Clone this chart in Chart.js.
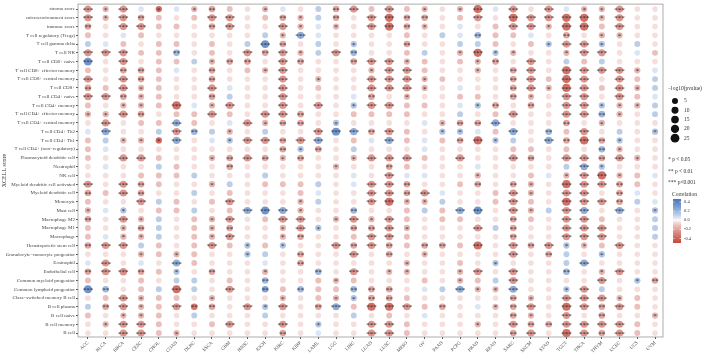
<!DOCTYPE html>
<html>
<head>
<meta charset="utf-8">
<script src="https://cdn.jsdelivr.net/npm/chart.js@4.4.1/dist/chart.umd.min.js"></script>
<style>
  html, body { margin: 0; padding: 0; background: #fff; }
</style>
</head>
<body>
<canvas id="bubble-chart" width="709" height="353"></canvas>
<script>
const cancers = ['ACC','BLCA','BRCA','CESC','CHOL','COAD','DLBC','ESCA','GBM','HNSC','KICH','KIRC','KIRP',
  'LAML','LGG','LIHC','LUAD','LUSC','MESO','OV','PAAD','PCPG','PRAD','READ','SARC','SKCM','STAD',
  'TGCT','THCA','THYM','UCEC','UCS','UVM'];

const cellTypes = [
  'stroma score',
  'microenvironment score',
  'immune score',
  'T cell regulatory (Tregs)',
  'T cell gamma delta',
  'T cell NK',
  'T cell CD8+ naive',
  'T cell CD8+ effector memory',
  'T cell CD8+ central memory',
  'T cell CD8+',
  'T cell CD4+ naive',
  'T cell CD4+ memory',
  'T cell CD4+ effector memory',
  'T cell CD4+ central memory',
  'T cell CD4+ Th2',
  'T cell CD4+ Th1',
  'T cell CD4+ (non\u2212regulatory)',
  'Plasmacytoid dendritic cell',
  'Neutrophil',
  'NK cell',
  'Myeloid dendritic cell activated',
  'Myeloid dendritic cell',
  'Monocyte',
  'Mast cell',
  'Macrophage M2',
  'Macrophage M1',
  'Macrophage',
  'Hematopoietic stem cell',
  'Granulocyte\u2212monocyte progenitor',
  'Eosinophil',
  'Endothelial cell',
  'Common myeloid progenitor',
  'Common lymphoid progenitor',
  'Class\u2212switched memory B cell',
  'B cell plasma',
  'B cell naive',
  'B cell memory',
  'B cell'
];

// correlation, one row per cell type, one column per cancer
const corr = [
  [-0.24,-0.15,-0.24,0.05,-0.38,0.05,-0.15,-0.19,-0.12,-0.05,-0.15,0.05,-0.05,0.12,-0.19,-0.24,-0.12,-0.24,-0.12,-0.15,-0.05,-0.15,-0.36,0.05,-0.24,-0.05,-0.24,0.05,-0.15,-0.15,-0.24,-0.05,-0.05],
  [-0.24,-0.15,-0.24,-0.19,-0.12,-0.05,-0.12,-0.24,-0.24,-0.05,-0.12,-0.19,-0.15,0.12,-0.19,-0.05,-0.24,-0.36,-0.19,-0.19,-0.05,-0.12,-0.24,-0.05,-0.36,-0.24,-0.24,-0.36,-0.36,-0.15,-0.24,-0.05,-0.05],
  [-0.19,-0.05,-0.24,-0.24,-0.12,-0.12,-0.05,-0.19,-0.24,-0.05,-0.05,-0.24,-0.15,0.05,-0.15,-0.05,-0.24,-0.36,-0.19,-0.15,-0.05,0.05,-0.05,-0.12,-0.24,-0.24,-0.15,-0.36,-0.36,-0.12,-0.24,-0.05,-0.05],
  [-0.12,-0.05,0.05,-0.12,-0.05,-0.05,-0.05,-0.05,-0.05,-0.05,0.12,-0.15,0.24,0.05,-0.05,-0.05,-0.05,-0.05,-0.12,-0.05,0.12,0.05,0.19,-0.12,-0.12,0.05,-0.05,-0.19,-0.05,-0.15,-0.15,-0.05,-0.05],
  [0.12,0.05,-0.12,-0.05,-0.12,-0.12,-0.05,-0.12,-0.05,0.12,0.33,-0.19,-0.05,0.12,-0.05,0.15,-0.05,-0.05,-0.19,-0.05,-0.05,0.12,0.12,-0.12,-0.05,-0.12,0.15,-0.24,-0.24,0.15,-0.05,0.12,-0.05],
  [-0.24,-0.24,-0.24,-0.12,-0.12,0.19,-0.05,-0.12,-0.05,-0.24,-0.19,-0.24,-0.15,0.12,-0.24,0.19,-0.05,-0.05,-0.12,0.12,-0.05,-0.15,-0.36,0.15,-0.15,-0.05,-0.05,-0.15,-0.24,-0.24,-0.05,0.05,-0.12],
  [0.33,-0.05,-0.24,-0.05,-0.12,-0.12,0.12,-0.15,-0.19,-0.19,-0.05,-0.24,-0.19,-0.05,-0.05,-0.19,-0.24,-0.24,-0.15,-0.12,-0.05,-0.12,-0.15,-0.19,-0.05,-0.24,-0.05,0.12,-0.12,0.12,-0.05,-0.05,-0.05],
  [-0.12,-0.05,-0.19,-0.19,-0.12,0.05,-0.05,-0.19,-0.05,-0.12,-0.15,-0.24,-0.05,-0.05,-0.05,-0.05,-0.15,-0.24,-0.24,-0.12,-0.05,-0.05,-0.15,-0.05,-0.19,-0.24,-0.05,-0.36,-0.24,-0.24,-0.24,-0.15,0.05],
  [-0.24,-0.05,-0.24,-0.19,-0.12,-0.05,-0.05,-0.19,-0.05,-0.05,-0.05,-0.24,-0.05,-0.15,-0.05,-0.05,-0.24,-0.24,-0.24,-0.15,-0.12,-0.05,-0.05,-0.05,-0.19,-0.24,-0.12,-0.36,-0.24,-0.05,-0.24,-0.12,0.12],
  [-0.19,-0.12,-0.24,-0.15,-0.12,-0.05,-0.05,-0.24,0.05,-0.05,-0.05,-0.24,-0.05,-0.12,-0.05,-0.05,-0.24,-0.24,-0.24,-0.15,-0.05,0.05,-0.05,-0.05,-0.19,-0.24,-0.15,-0.36,-0.24,-0.12,-0.24,-0.15,0.12],
  [-0.24,-0.24,-0.19,-0.15,-0.12,-0.05,-0.05,-0.19,0.12,-0.05,-0.05,-0.24,-0.05,-0.05,-0.05,0.05,-0.19,-0.05,-0.15,-0.05,-0.05,-0.12,-0.12,-0.05,-0.19,-0.15,-0.05,-0.24,-0.24,-0.05,-0.24,-0.12,0.05],
  [-0.12,-0.05,-0.15,-0.15,-0.12,-0.36,0.05,-0.15,-0.24,-0.05,-0.05,-0.24,-0.05,-0.24,-0.05,0.15,-0.24,-0.24,-0.12,-0.12,-0.05,0.05,0.15,-0.19,-0.05,-0.19,-0.05,-0.24,-0.24,0.15,-0.15,-0.15,0.12],
  [-0.15,-0.15,-0.24,-0.19,-0.05,-0.12,-0.12,-0.24,-0.12,-0.05,-0.24,-0.24,-0.19,-0.05,-0.05,-0.12,-0.12,-0.12,-0.12,-0.05,-0.05,0.12,-0.05,-0.12,-0.24,-0.05,-0.05,-0.24,-0.24,0.19,-0.15,-0.05,0.12],
  [-0.05,-0.24,-0.05,-0.12,-0.12,0.24,-0.12,-0.05,0.05,-0.24,-0.15,-0.19,-0.19,-0.05,0.15,-0.05,-0.05,-0.05,-0.05,0.05,-0.15,-0.19,-0.19,0.24,-0.05,-0.05,-0.05,-0.19,-0.05,-0.15,-0.05,-0.05,-0.05],
  [0.05,0.24,-0.05,-0.05,0.12,-0.24,0.19,0.12,-0.15,-0.05,0.12,-0.05,-0.05,-0.24,0.33,0.24,-0.19,-0.24,-0.12,-0.05,0.15,0.15,0.05,-0.12,0.24,-0.05,0.19,-0.12,-0.24,-0.05,0.12,-0.05,0.15],
  [-0.12,0.12,-0.15,-0.15,-0.38,0.24,-0.05,0.05,0.15,-0.24,-0.24,-0.19,-0.24,0.24,-0.05,-0.12,0.05,0.24,-0.12,0.05,-0.12,-0.19,-0.36,0.15,0.12,-0.05,0.24,-0.19,-0.36,-0.19,0.15,-0.05,-0.05],
  [-0.12,0.05,-0.05,-0.05,-0.05,-0.05,-0.05,-0.05,-0.05,-0.05,-0.05,-0.19,0.15,-0.19,-0.05,0.12,-0.05,-0.05,-0.05,0.05,-0.05,-0.05,-0.05,-0.05,-0.12,-0.12,-0.05,-0.12,-0.05,0.19,-0.15,-0.05,-0.05],
  [-0.12,-0.05,-0.24,-0.24,-0.12,-0.05,-0.05,-0.15,-0.19,-0.24,-0.19,-0.15,-0.19,-0.05,-0.05,-0.15,-0.24,-0.24,-0.24,-0.12,-0.05,-0.24,-0.05,-0.05,-0.24,-0.19,-0.05,-0.24,-0.24,-0.19,-0.24,-0.15,-0.05],
  [-0.05,0.05,-0.05,-0.05,0.12,-0.12,-0.05,-0.05,-0.19,-0.05,-0.05,-0.05,-0.05,-0.05,-0.15,-0.05,-0.05,-0.19,-0.12,-0.05,-0.05,-0.05,0.05,-0.05,-0.05,-0.05,-0.05,0.12,0.24,0.15,-0.05,-0.05,-0.05],
  [-0.05,-0.05,-0.05,-0.12,-0.12,-0.12,0.12,-0.05,-0.05,-0.05,0.12,-0.05,-0.05,-0.05,-0.05,0.05,-0.05,-0.24,0.05,0.05,-0.05,-0.05,-0.15,-0.05,-0.05,-0.12,0.05,-0.15,-0.24,-0.36,-0.15,-0.12,0.05],
  [-0.24,-0.05,-0.24,-0.19,-0.12,-0.05,-0.05,-0.15,0.12,-0.05,-0.12,-0.12,-0.12,0.12,-0.05,0.05,-0.24,-0.24,-0.19,-0.05,-0.05,-0.12,-0.19,-0.05,-0.19,-0.15,-0.05,-0.36,-0.24,-0.24,-0.19,-0.12,-0.05],
  [-0.19,-0.12,-0.24,-0.19,-0.05,-0.05,0.12,-0.05,-0.12,-0.05,-0.05,-0.05,-0.12,0.05,-0.05,-0.05,-0.24,-0.24,-0.19,-0.24,0.05,-0.05,-0.05,-0.12,-0.24,-0.15,-0.05,-0.24,-0.24,-0.05,-0.19,0.05,-0.05],
  [-0.12,-0.05,-0.05,-0.24,0.12,-0.12,-0.05,-0.12,-0.24,-0.05,-0.05,-0.05,-0.15,0.12,-0.05,-0.05,-0.24,-0.36,-0.15,-0.15,0.12,-0.05,-0.05,-0.12,-0.24,-0.12,-0.05,-0.36,-0.24,-0.24,-0.19,0.12,0.05],
  [-0.15,0.05,0.15,-0.05,-0.12,-0.12,0.12,-0.05,-0.12,0.24,0.33,0.24,-0.15,-0.05,-0.05,0.19,-0.05,-0.05,-0.12,0.12,-0.12,0.24,0.33,-0.05,-0.24,-0.15,0.12,-0.24,0.24,-0.05,0.24,-0.05,0.15],
  [-0.19,-0.05,-0.24,-0.15,0.12,-0.05,-0.12,-0.15,-0.24,-0.05,-0.12,-0.24,-0.24,-0.05,-0.15,-0.24,-0.15,-0.24,-0.12,-0.05,-0.12,-0.12,-0.05,-0.05,-0.19,-0.12,-0.05,-0.24,-0.24,-0.12,-0.05,-0.05,0.12],
  [-0.12,-0.05,-0.15,-0.19,0.12,-0.05,-0.12,-0.15,-0.19,-0.05,-0.05,-0.15,-0.24,0.15,-0.05,-0.19,-0.19,-0.24,-0.15,-0.05,-0.05,-0.05,-0.24,0.12,-0.19,-0.05,-0.05,-0.24,-0.24,-0.24,-0.05,-0.05,0.12],
  [-0.12,0.05,-0.15,-0.15,0.12,-0.05,-0.12,-0.15,-0.24,-0.05,-0.05,-0.15,-0.19,-0.05,-0.05,-0.12,-0.24,-0.24,-0.12,-0.05,-0.05,-0.05,-0.05,-0.05,-0.19,-0.05,-0.05,-0.24,-0.24,-0.24,-0.05,-0.05,0.12],
  [-0.19,-0.24,-0.24,0.12,-0.12,-0.05,-0.12,-0.24,-0.12,0.15,-0.12,0.15,-0.05,-0.05,-0.24,-0.19,-0.24,-0.19,-0.12,-0.19,-0.19,-0.12,-0.36,-0.05,-0.24,-0.19,-0.24,0.15,-0.15,-0.12,-0.24,-0.05,-0.05],
  [-0.05,-0.05,-0.05,-0.15,-0.12,-0.15,-0.12,-0.05,-0.05,0.15,0.12,-0.05,-0.19,-0.05,-0.05,-0.24,-0.05,-0.19,-0.05,-0.15,-0.05,-0.05,-0.05,-0.05,-0.24,-0.05,-0.19,0.12,-0.05,0.15,-0.05,-0.05,-0.05],
  [0.05,-0.24,-0.05,0.05,-0.05,0.24,-0.12,-0.05,-0.05,-0.05,0.05,-0.05,-0.19,-0.05,-0.05,-0.05,-0.05,-0.05,-0.15,-0.05,-0.05,-0.12,-0.05,0.15,-0.05,-0.05,-0.05,0.12,0.24,-0.05,-0.05,-0.05,-0.05],
  [-0.19,-0.24,-0.26,-0.19,-0.12,0.15,-0.05,-0.19,-0.05,-0.05,-0.15,-0.05,-0.05,0.19,-0.05,-0.24,-0.05,-0.15,-0.15,-0.05,-0.05,-0.15,-0.24,-0.05,-0.24,-0.05,-0.05,0.19,-0.05,-0.15,-0.24,-0.05,-0.05],
  [-0.12,-0.05,-0.05,-0.12,-0.05,0.12,0.12,-0.05,-0.12,-0.05,0.19,-0.05,-0.05,-0.12,-0.15,-0.12,-0.05,-0.05,-0.05,-0.12,-0.05,-0.15,-0.12,0.12,-0.24,-0.05,-0.05,-0.05,-0.05,-0.24,-0.05,0.15,-0.19],
  [0.33,0.19,-0.05,-0.12,0.12,-0.36,0.12,-0.05,-0.24,-0.05,0.28,-0.12,0.19,-0.12,-0.12,0.19,-0.19,-0.19,-0.05,0.05,0.12,0.24,-0.15,-0.15,0.24,-0.05,-0.05,0.15,-0.24,0.12,-0.05,-0.05,-0.05],
  [-0.05,-0.12,-0.24,-0.15,-0.12,-0.12,-0.05,-0.15,-0.05,-0.05,-0.05,-0.15,-0.05,-0.12,-0.15,0.15,-0.19,-0.19,-0.12,-0.05,-0.05,-0.05,-0.05,-0.05,-0.19,-0.15,-0.05,-0.24,-0.24,-0.24,-0.15,-0.12,-0.05],
  [0.12,-0.19,-0.24,-0.15,-0.12,-0.24,-0.34,-0.19,-0.05,-0.24,0.15,-0.24,-0.05,-0.19,0.24,-0.12,-0.36,-0.36,-0.24,-0.12,-0.19,-0.05,0.05,-0.15,-0.19,-0.24,-0.05,-0.36,-0.24,-0.19,-0.24,-0.12,-0.05],
  [-0.12,-0.05,-0.15,-0.15,-0.12,-0.05,0.12,-0.05,-0.05,-0.05,0.12,-0.05,-0.05,-0.05,-0.05,0.12,-0.05,-0.12,-0.05,0.05,-0.05,-0.05,-0.05,-0.05,-0.19,-0.15,-0.05,-0.24,-0.05,-0.19,-0.05,-0.05,-0.15],
  [-0.05,-0.15,-0.24,-0.24,-0.12,-0.05,-0.05,-0.12,-0.24,-0.05,-0.05,-0.24,-0.05,0.15,-0.05,-0.05,-0.24,-0.24,-0.12,-0.05,-0.05,-0.05,-0.15,-0.05,-0.24,-0.19,-0.19,-0.24,-0.24,-0.24,-0.24,-0.12,-0.05],
  [-0.05,-0.05,-0.24,-0.24,-0.12,-0.15,-0.05,-0.05,-0.05,-0.05,-0.05,-0.19,-0.05,0.05,-0.05,-0.05,-0.24,-0.24,-0.12,-0.05,-0.05,-0.05,-0.05,-0.05,-0.19,-0.24,-0.05,-0.36,-0.24,-0.19,-0.24,-0.12,-0.05]
];

// -log10(pvalue), same layout as corr
const logP = [
  [4.5,1.6,4.5,0.4,1.7,0.4,1.6,2.4,0.9,0.4,1.6,0.4,0.4,0.9,2.4,4.5,0.9,4.5,0.9,1.6,0.4,1.6,10,0.4,4.5,0.4,4.5,0.4,1.6,1.6,4.5,0.4,0.4],
  [4.5,1.6,4.5,2.4,0.9,0.4,0.9,4.5,4.5,0.4,0.9,2.4,1.6,0.9,2.4,0.4,4.5,10,2.4,2.4,0.4,0.9,4.5,0.4,10,4.5,4.5,10,10,1.6,4.5,0.4,0.4],
  [2.4,0.4,4.5,4.5,0.9,0.9,0.4,2.4,4.5,0.4,0.4,4.5,1.6,0.4,1.6,0.4,4.5,10,2.4,1.6,0.4,0.4,0.4,0.9,4.5,4.5,1.6,10,10,0.9,4.5,0.4,0.4],
  [0.9,0.4,0.4,0.9,0.4,0.4,0.4,0.4,0.4,0.4,0.9,1.6,4.5,0.4,0.4,0.4,0.4,0.4,0.9,0.4,0.9,0.4,2.4,0.9,0.9,0.4,0.4,2.4,0.4,1.6,1.6,0.4,0.4],
  [0.9,0.4,0.9,0.4,0.9,0.9,0.4,0.9,0.4,0.9,8,2.4,0.4,0.9,0.4,1.6,0.4,0.4,2.4,0.4,0.4,0.9,0.9,0.9,0.4,0.9,1.6,4.5,4.5,1.6,0.4,0.9,0.4],
  [4.5,4.5,4.5,0.9,0.9,2.4,0.4,0.9,0.4,4.5,2.4,4.5,1.6,0.9,4.5,2.4,0.4,0.4,0.9,0.9,0.4,1.6,10,1.6,1.6,0.4,0.4,1.6,4.5,4.5,0.4,0.4,0.9],
  [8,0.4,4.5,0.4,0.9,0.9,0.9,1.6,2.4,2.4,0.4,4.5,2.4,0.4,0.4,2.4,4.5,4.5,1.6,0.9,0.4,0.9,1.6,2.4,0.4,4.5,0.4,0.9,0.9,0.9,0.4,0.4,0.4],
  [0.9,0.4,2.4,2.4,0.9,0.4,0.4,2.4,0.4,0.9,1.6,4.5,0.4,0.4,0.4,0.4,1.6,4.5,4.5,0.9,0.4,0.4,1.6,0.4,2.4,4.5,0.4,10,4.5,4.5,4.5,1.6,0.4],
  [4.5,0.4,4.5,2.4,0.9,0.4,0.4,2.4,0.4,0.4,0.4,4.5,0.4,1.6,0.4,0.4,4.5,4.5,4.5,1.6,0.9,0.4,0.4,0.4,2.4,4.5,0.9,10,4.5,0.4,4.5,0.9,0.9],
  [2.4,0.9,4.5,1.6,0.9,0.4,0.4,4.5,0.4,0.4,0.4,4.5,0.4,0.9,0.4,0.4,4.5,4.5,4.5,1.6,0.4,0.4,0.4,0.4,2.4,4.5,1.6,10,4.5,0.9,4.5,1.6,0.9],
  [4.5,4.5,2.4,1.6,0.9,0.4,0.4,2.4,0.9,0.4,0.4,4.5,0.4,0.4,0.4,0.4,2.4,0.4,1.6,0.4,0.4,0.9,0.9,0.4,2.4,1.6,0.4,4.5,4.5,0.4,4.5,0.9,0.4],
  [0.9,0.4,1.6,1.6,0.9,10,0.4,1.6,4.5,0.4,0.4,4.5,0.4,4.5,0.4,1.6,4.5,4.5,0.9,0.9,0.4,0.4,1.6,2.4,0.4,2.4,0.4,4.5,4.5,1.6,1.6,1.6,0.9],
  [1.6,1.6,4.5,2.4,0.4,0.9,0.9,4.5,0.9,0.4,4.5,4.5,2.4,0.4,0.4,0.9,0.9,0.9,0.9,0.4,0.4,0.9,0.4,0.9,4.5,0.4,0.4,4.5,4.5,2.4,1.6,0.4,0.9],
  [0.4,4.5,0.4,0.9,0.9,4.5,0.9,0.4,0.4,4.5,1.6,2.4,2.4,0.4,1.6,0.4,0.4,0.4,0.4,0.4,1.6,2.4,2.4,4.5,0.4,0.4,0.4,2.4,0.4,1.6,0.4,0.4,0.4],
  [0.4,4.5,0.4,0.4,0.9,4.5,2.4,0.9,1.6,0.4,0.9,0.4,0.4,4.5,8,4.5,2.4,4.5,0.9,0.4,1.6,1.6,0.4,0.9,4.5,0.4,2.4,0.9,4.5,0.4,0.9,0.4,1.6],
  [0.9,0.9,1.6,1.6,1.7,4.5,0.4,0.4,1.6,4.5,4.5,2.4,4.5,4.5,0.4,0.9,0.4,4.5,0.9,0.4,0.9,2.4,10,1.6,0.9,0.4,4.5,2.4,10,2.4,1.6,0.4,0.4],
  [0.9,0.4,0.4,0.4,0.4,0.4,0.4,0.4,0.4,0.4,0.4,2.4,1.6,2.4,0.4,0.9,0.4,0.4,0.4,0.4,0.4,0.4,0.4,0.4,0.9,0.9,0.4,0.9,0.4,2.4,1.6,0.4,0.4],
  [0.9,0.4,4.5,4.5,0.9,0.4,0.4,1.6,2.4,4.5,2.4,1.6,2.4,0.4,0.4,1.6,4.5,4.5,4.5,0.9,0.4,4.5,0.4,0.4,4.5,2.4,0.4,4.5,4.5,2.4,4.5,1.6,0.4],
  [0.4,0.4,0.4,0.4,0.9,0.9,0.4,0.4,2.4,0.4,0.4,0.4,0.4,0.4,1.6,0.4,0.4,2.4,0.9,0.4,0.4,0.4,0.4,0.4,0.4,0.4,0.4,0.9,4.5,1.6,0.4,0.4,0.4],
  [0.4,0.4,0.4,0.9,0.9,0.9,0.9,0.4,0.4,0.4,0.9,0.4,0.4,0.4,0.4,0.4,0.4,4.5,0.4,0.4,0.4,0.4,1.6,0.4,0.4,0.9,0.4,1.6,4.5,10,1.6,0.9,0.4],
  [4.5,0.4,4.5,2.4,0.9,0.4,0.4,1.6,0.9,0.4,0.9,0.9,0.9,0.9,0.4,0.4,4.5,4.5,2.4,0.4,0.4,0.9,2.4,0.4,2.4,1.6,0.4,10,4.5,4.5,2.4,0.9,0.4],
  [2.4,0.9,4.5,2.4,0.4,0.4,0.9,0.4,0.9,0.4,0.4,0.4,0.9,0.4,0.4,0.4,4.5,4.5,2.4,4.5,0.4,0.4,0.4,0.9,4.5,1.6,0.4,4.5,4.5,0.4,2.4,0.4,0.4],
  [0.9,0.4,0.4,4.5,0.9,0.9,0.4,0.9,4.5,0.4,0.4,0.4,1.6,0.9,0.4,0.4,4.5,10,1.6,1.6,0.9,0.4,0.4,0.9,4.5,0.9,0.4,10,4.5,4.5,2.4,0.9,0.4],
  [1.6,0.4,1.6,0.4,0.9,0.9,0.9,0.4,0.9,4.5,8,4.5,1.6,0.4,0.4,2.4,0.4,0.4,0.9,0.9,0.9,4.5,8,0.4,4.5,1.6,0.9,4.5,4.5,0.4,4.5,0.4,1.6],
  [2.4,0.4,4.5,1.6,0.9,0.4,0.9,1.6,4.5,0.4,0.9,4.5,4.5,0.4,1.6,4.5,1.6,4.5,0.9,0.4,0.9,0.9,0.4,0.4,2.4,0.9,0.4,4.5,4.5,0.9,0.4,0.4,0.9],
  [0.9,0.4,1.6,2.4,0.9,0.4,0.9,1.6,2.4,0.4,0.4,1.6,4.5,1.6,0.4,2.4,2.4,4.5,1.6,0.4,0.4,0.4,4.5,0.9,2.4,0.4,0.4,4.5,4.5,4.5,0.4,0.4,0.9],
  [0.9,0.4,1.6,1.6,0.9,0.4,0.9,1.6,4.5,0.4,0.4,1.6,2.4,0.4,0.4,0.9,4.5,4.5,0.9,0.4,0.4,0.4,0.4,0.4,2.4,0.4,0.4,4.5,4.5,4.5,0.4,0.4,0.9],
  [2.4,4.5,4.5,0.9,0.9,0.4,0.9,4.5,0.9,1.6,0.9,1.6,0.4,0.4,4.5,2.4,4.5,2.4,0.9,2.4,2.4,0.9,10,0.4,4.5,2.4,4.5,1.6,1.6,0.9,4.5,0.4,0.4],
  [0.4,0.4,0.4,1.6,0.9,1.6,0.9,0.4,0.4,1.6,0.9,0.4,2.4,0.4,0.4,4.5,0.4,2.4,0.4,1.6,0.4,0.4,0.4,0.4,4.5,0.4,2.4,0.9,0.4,1.6,0.4,0.4,0.4],
  [0.4,4.5,0.4,0.4,0.4,4.5,0.9,0.4,0.4,0.4,0.4,0.4,2.4,0.4,0.4,0.4,0.4,0.4,1.6,0.4,0.4,0.9,0.4,1.6,0.4,0.4,0.4,0.9,4.5,0.4,0.4,0.4,0.4],
  [2.4,4.5,5.5,2.4,0.9,1.6,0.4,2.4,0.4,0.4,1.6,0.4,0.4,2.4,0.4,4.5,0.4,1.6,1.6,0.4,0.4,1.6,4.5,0.4,4.5,0.4,0.4,2.4,0.4,1.6,4.5,0.4,0.4],
  [0.9,0.4,0.4,0.9,0.4,0.9,0.9,0.4,0.9,0.4,2.4,0.4,0.4,0.9,1.6,0.9,0.4,0.4,0.4,0.9,0.4,1.6,0.9,0.9,4.5,0.4,0.4,0.4,0.4,4.5,0.4,1.6,2.4],
  [8,2.4,0.4,0.9,0.9,10,0.9,0.4,4.5,0.4,2.6,0.9,2.4,0.9,0.9,2.4,2.4,2.4,0.4,0.4,0.9,4.5,1.6,1.6,4.5,0.4,0.4,1.6,4.5,0.9,0.4,0.4,0.4],
  [0.4,0.9,4.5,1.6,0.9,0.9,0.4,1.6,0.4,0.4,0.4,1.6,0.4,0.9,1.6,1.6,2.4,2.4,0.9,0.4,0.4,0.4,0.4,0.4,2.4,1.6,0.4,4.5,4.5,4.5,1.6,0.9,0.4],
  [0.9,2.4,4.5,1.6,0.9,4.5,2.6,2.4,0.4,4.5,1.6,4.5,0.4,2.4,4.5,0.9,10,10,4.5,0.9,2.4,0.4,0.4,1.6,2.4,4.5,0.4,10,4.5,2.4,4.5,0.9,0.4],
  [0.9,0.4,1.6,1.6,0.9,0.4,0.9,0.4,0.4,0.4,0.9,0.4,0.4,0.4,0.4,0.9,0.4,0.9,0.4,0.4,0.4,0.4,0.4,0.4,2.4,1.6,0.4,4.5,0.4,2.4,0.4,0.4,1.6],
  [0.4,1.6,4.5,4.5,0.9,0.4,0.4,0.9,4.5,0.4,0.4,4.5,0.4,1.6,0.4,0.4,4.5,4.5,0.9,0.4,0.4,0.4,1.6,0.4,4.5,2.4,2.4,4.5,4.5,4.5,4.5,0.9,0.4],
  [0.4,0.4,4.5,4.5,0.9,1.6,0.4,0.4,0.4,0.4,0.4,2.4,0.4,0.4,0.4,0.4,4.5,4.5,0.9,0.4,0.4,0.4,0.4,0.4,2.4,4.5,0.4,10,4.5,2.4,4.5,0.9,0.4]
];

const sizeTicks = [5, 10, 15, 20, 25];
const corrTicks = [0.4, 0.2, 0.0, -0.2, -0.4];
const starLabels = ['* p < 0.05', '** p < 0.01', '*** p<0.001'];

const corrLo = -0.5, corrHi = 0.46;
const redEnd = [196, 72, 60];
const blueEnd = [72, 118, 190];
const serif = '"Liberation Serif", "DejaVu Serif", serif';

function corrColor(v) {
  let t, end;
  if (v < 0) { t = Math.min(1, v / corrLo); end = redEnd; }
  else { t = Math.min(1, v / corrHi); end = blueEnd; }
  t = Math.pow(t, 0.75);
  const c = end.map(e => Math.round(255 + (e - 255) * t));
  return 'rgb(' + c.join(',') + ')';
}

function sizeOf(lp) {
  return 2.5 + 0.5 * Math.sqrt(lp);
}

function starsOf(lp) {
  if (lp > 3) return '***';
  if (lp > 2) return '**';
  if (lp > 1.3) return '*';
  return '';
}

const points = [];
cellTypes.forEach((cell, r) => {
  cancers.forEach((cancer, c) => {
    points.push({x: c, y: r, r: sizeOf(logP[r][c]), corr: corr[r][c], lp: logP[r][c]});
  });
});

const extras = {
  id: 'extras',
  afterDatasetsDraw(chart) {
    const ctx = chart.ctx;
    const meta = chart.getDatasetMeta(0);
    ctx.save();
    ctx.fillStyle = '#2a2a2a';
    ctx.font = '7px ' + serif;
    ctx.textAlign = 'center';
    ctx.textBaseline = 'middle';
    meta.data.forEach((el, i) => {
      const s = starsOf(points[i].lp);
      if (s) ctx.fillText(s, el.x, el.y + 0.8);
    });
    ctx.restore();
  },
  afterDraw(chart) {
    const ctx = chart.ctx;
    const a = chart.chartArea;
    ctx.save();
    ctx.strokeStyle = '#8a8a8a';
    ctx.lineWidth = 0.7;
    ctx.strokeRect(a.left, a.top, a.right - a.left, a.bottom - a.top);

    // size legend
    ctx.fillStyle = '#333';
    ctx.font = '5.5px ' + serif;
    ctx.textAlign = 'left';
    ctx.textBaseline = 'middle';
    ctx.fillText('\u2212log10(pvalue)', 668, 89);
    sizeTicks.forEach((s, i) => {
      const y = 101 + i * 9.3;
      ctx.fillStyle = '#111';
      ctx.beginPath();
      ctx.arc(675, y, sizeOf(s) - 0.6, 0, Math.PI * 2);
      ctx.fill();
      ctx.fillStyle = '#333';
      ctx.fillText(String(s), 684, y);
    });

    // star legend
    starLabels.forEach((t, i) => {
      ctx.fillText(t, 668, 160 + i * 11.5);
    });

    // colour bar
    ctx.fillText('Correlation', 672, 195);
    const top = 199, bot = 243, bx = 673, bw = 8;
    for (let y = top; y < bot; y++) {
      const v = corrHi - (y - top + 0.5) / (bot - top) * (corrHi - corrLo);
      ctx.fillStyle = corrColor(v);
      ctx.fillRect(bx, y, bw, 1);
    }
    ctx.fillStyle = '#333';
    ctx.font = '4.5px ' + serif;
    corrTicks.forEach(v => {
      const y = top + (corrHi - v) / (corrHi - corrLo) * (bot - top);
      ctx.fillText(v.toFixed(1), bx + bw + 3, y);
      ctx.fillStyle = '#fff';
      ctx.fillRect(bx, y, 1.5, 0.6);
      ctx.fillRect(bx + bw - 1.5, y, 1.5, 0.6);
      ctx.fillStyle = '#333';
    });
    ctx.restore();
  }
};

const config = {
  type: 'bubble',
  data: {
    datasets: [{
      data: points,
      backgroundColor: ctx => corrColor(ctx.raw.corr),
      borderWidth: 0,
      hoverBorderWidth: 0
    }]
  },
  options: {
    responsive: false,
    animation: false,
    devicePixelRatio: 1,
    layout: {padding: {top: 1, right: 46, bottom: 0, left: 0}},
    plugins: {legend: {display: false}, tooltip: {enabled: false}},
    scales: {
      x: {
        type: 'linear',
        min: -0.56,
        max: 32.45,
        afterBuildTicks: s => { s.ticks = cancers.map((_, i) => ({value: i})); },
        afterFit: s => { s.height = 16; },
        ticks: {
          callback: v => cancers[v],
          autoSkip: false,
          minRotation: 45,
          maxRotation: 45,
          padding: 1,
          color: '#444',
          font: {family: serif, size: 4.8}
        },
        grid: {drawOnChartArea: false, drawTicks: true, tickLength: 2, color: '#555'},
        border: {display: false}
      },
      y: {
        type: 'linear',
        reverse: true,
        min: -0.57,
        max: 37.45,
        afterBuildTicks: s => { s.ticks = cellTypes.map((_, i) => ({value: i})); },
        afterFit: s => { s.width = 78; },
        ticks: {
          callback: v => cellTypes[v],
          autoSkip: false,
          padding: 1,
          color: '#444',
          font: {family: serif, size: 5}
        },
        grid: {drawOnChartArea: false, drawTicks: true, tickLength: 2, color: '#555'},
        border: {display: false},
        title: {display: true, text: 'XCELL score', color: '#333', padding: 1, font: {family: serif, size: 6}}
      }
    }
  },
  plugins: [extras]
};

const myChart = new Chart(document.getElementById('bubble-chart'), config);
</script>
</body>
</html>
